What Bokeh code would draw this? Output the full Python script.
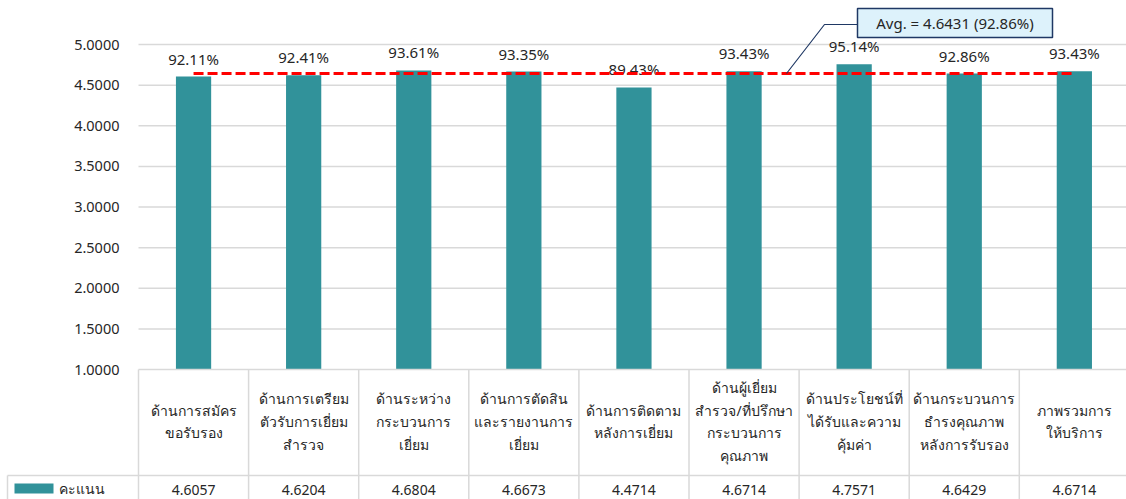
from bokeh.plotting import figure
from bokeh.models import Range1d, ColumnDataSource
from bokeh.core.properties import value
from bokeh.embed import file_html
from bokeh.resources import INLINE

# ---- data ----
categories = [
    "ด้านการสมัคร\nขอรับรอง",
    "ด้านการเตรียม\nตัวรับการเยี่ยม\nสำรวจ",
    "ด้านระหว่าง\nกระบวนการ\nเยี่ยม",
    "ด้านการตัดสิน\nและรายงานการ\nเยี่ยม",
    "ด้านการติดตาม\nหลังการเยี่ยม",
    "ด้านผู้เยี่ยม\nสำรวจ/ที่ปรึกษา\nกระบวนการ\nคุณภาพ",
    "ด้านประโยชน์ที่\nได้รับและความ\nคุ้มค่า",
    "ด้านกระบวนการ\nธำรงคุณภาพ\nหลังการรับรอง",
    "ภาพรวมการ\nให้บริการ",
]
scores = [4.6057, 4.6204, 4.6804, 4.6673, 4.4714, 4.6714, 4.7571, 4.6429, 4.6714]
score_labels = ["4.6057", "4.6204", "4.6804", "4.6673", "4.4714", "4.6714", "4.7571", "4.6429", "4.6714"]
pct_labels = ["92.11%", "92.41%", "93.61%", "93.35%", "89.43%", "93.43%", "95.14%", "92.86%", "93.43%"]
series_name = "คะแนน"
avg_score = 4.6431
avg_pct = "92.86%"
y_ticks = [1.0, 1.5, 2.0, 2.5, 3.0, 3.5, 4.0, 4.5, 5.0]
y_tick_labels = ["1.0000", "1.5000", "2.0000", "2.5000", "3.0000", "3.5000", "4.0000", "4.5000", "5.0000"]

# ---- layout (pixels) ----
W, H = 1126, 499
COL0 = 138.0          # left edge of first category column
COLW = 110.1          # column width
Y1PX, Y5PX = 369.0, 44.0
PPU = (Y1PX - Y5PX) / 4.0

def px2x(px):
    return (px - COL0) / COLW

def px2y(py):
    return 1.0 + (Y1PX - py) / PPU

FONT = value("Noto Sans")
TXT = "#262626"
GRID = "#D9D9D9"
TEAL = "#31929A"

p = figure(width=W, height=H, output_backend="svg", toolbar_location=None,
           x_axis_type=None, y_axis_type=None,
           x_range=Range1d(px2x(0), px2x(W)), y_range=Range1d(px2y(H), px2y(0)),
           min_border=0, min_border_left=0, min_border_right=0,
           min_border_top=0, min_border_bottom=0)
p.grid.visible = False
p.outline_line_color = None
p.background_fill_color = "white"
p.border_fill_color = "white"

n = len(categories)
xs = [i + 0.5 for i in range(n)]

# gridlines
grid_ticks = [t for t in y_ticks if t > 1.0]
p.segment(x0=[0] * len(grid_ticks), x1=[px2x(W)] * len(grid_ticks), y0=grid_ticks, y1=grid_ticks,
          line_color=GRID, line_width=1.5)

# y tick labels
p.text(x=[px2x(119)] * len(y_ticks), y=y_ticks, text=y_tick_labels, text_align="right",
       text_baseline="middle", text_font=FONT, text_font_size="14.5px", text_color=TXT)

# bars
src = ColumnDataSource(dict(x=xs, top=scores, pct=pct_labels, cat=categories, val=score_labels))
p.vbar(x="x", top="top", bottom=1.0, width=0.32, source=src, fill_color=TEAL, line_color=None)

# percent labels
p.text(x="x", y="top", text="pct", source=src, text_align="center", text_baseline="middle",
       y_offset=-18, text_font=FONT, text_font_size="15px", text_color=TXT)

# average line
p.line(x=[xs[0], xs[-1]], y=[avg_score, avg_score], line_color="#FF0000", line_width=3,
       line_dash="10 4")

# callout
NAVY = "#1F3864"
bx0, bx1, by0, by1 = px2x(857), px2x(1052), px2y(37), px2y(8)
p.line(x=[px2x(786), px2x(824), bx0], y=[avg_score, px2y(24), px2y(24)], line_color=NAVY, line_width=1.2)
p.quad(left=[bx0], right=[bx1], bottom=[by0], top=[by1], fill_color="#DDF2FB", line_color=NAVY,
       line_width=1.5)
p.text(x=[(bx0 + bx1) / 2], y=[(by0 + by1) / 2], text=[f"Avg. = {avg_score:.4f} ({avg_pct})"],
       text_align="center", text_baseline="middle", text_font=FONT, text_font_size="15px",
       text_color=TXT)

# ---- data table ----
ybot = px2y(H + 5)
row_y = px2y(475)
# top border of header row
p.segment(x0=[0], x1=[px2x(W + 5)], y0=[1.0], y1=[1.0], line_color=GRID, line_width=1.5)
# row separator
p.segment(x0=[px2x(7)], x1=[px2x(W + 5)], y0=[row_y], y1=[row_y], line_color=GRID, line_width=1.5)
# verticals
vx = list(range(n + 1))
p.segment(x0=vx, x1=vx, y0=[1.0] * len(vx), y1=[ybot] * len(vx), line_color=GRID, line_width=1.5)
p.segment(x0=[px2x(7)], x1=[px2x(7)], y0=[row_y], y1=[ybot], line_color=GRID, line_width=1.5)

# category labels
p.text(x="x", y=px2y(421), text="cat", source=src, text_align="center", text_baseline="middle",
       text_font=FONT, text_font_size="14px", text_color=TXT, text_line_height=1.2)
# values
p.text(x="x", y=px2y(489), text="val", source=src, text_align="center", text_baseline="middle",
       text_font=FONT, text_font_size="14px", text_color=TXT)
# legend key
p.rect(x=[px2x(33.5)], y=[px2y(488)], width=39, height=10, width_units="screen", height_units="screen",
       fill_color=TEAL, line_color=None)
p.text(x=[px2x(58)], y=[px2y(488)], text=[series_name], text_align="left", text_baseline="middle",
       text_font=FONT, text_font_size="14px", text_color=TXT)

open("out.html", "w").write(file_html(p, INLINE))
